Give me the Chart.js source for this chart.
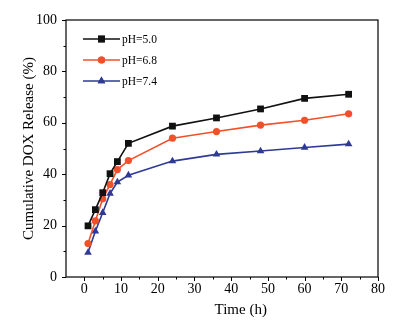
<!DOCTYPE html>
<html>
<head>
<meta charset="utf-8">
<script src="https://cdn.jsdelivr.net/npm/chart.js@4"></script>
<style>
  html, body { margin: 0; padding: 0; background: #fff; }
  #wrap { width: 403px; height: 324px; }
</style>
</head>
<body>
<div id="wrap"><canvas id="c" width="403" height="324"></canvas></div>
<script>
const times = [1, 3, 5, 7, 9, 12, 24, 36, 48, 60, 72];
const ph50 = [19.9, 26.2, 32.8, 40.2, 44.9, 52.0, 58.7, 61.9, 65.4, 69.5, 71.1];
const ph68 = [13.0, 21.8, 30.4, 36.0, 41.8, 45.3, 54.0, 56.6, 59.1, 61.0, 63.5];
const ph74 = [9.5, 17.8, 25.0, 32.5, 36.9, 39.6, 45.1, 47.7, 49.0, 50.4, 51.7];
const xTicks = [0, 10, 20, 30, 40, 50, 60, 70, 80];
const yTicks = [0, 20, 40, 60, 80, 100];

const FONT = "'Liberation Serif', 'Times New Roman', serif";

const series = [
  { label: "pH=5.0", data: ph50, color: "#111111", style: "rect", r: 4.8 },
  { label: "pH=6.8", data: ph68, color: "#f0502a", style: "circle", r: 3.6 },
  { label: "pH=7.4", data: ph74, color: "#2e3a94", style: "triangle", r: 4.4 }
];

// frame, outward tick marks (major + minor), x title and legend
const framePlugin = {
  id: "frame",
  afterDraw(chart) {
    const ctx = chart.ctx;
    const a = chart.chartArea;
    const xs = chart.scales.x, ys = chart.scales.y;
    ctx.save();
    ctx.strokeStyle = "#000";
    ctx.lineWidth = 1.2;
    ctx.strokeRect(a.left, a.top, a.right - a.left, a.bottom - a.top);
    ctx.lineWidth = 1;
    ctx.beginPath();
    for (let v = 0; v <= 80; v += 5) {
      const px = Math.round(xs.getPixelForValue(v)) + 0.5;
      const len = v % 10 === 0 ? 4 : 2.5;
      ctx.moveTo(px, a.bottom);
      ctx.lineTo(px, a.bottom + len);
    }
    for (let v = 0; v <= 100; v += 10) {
      const py = Math.round(ys.getPixelForValue(v)) + 0.5;
      const len = v % 20 === 0 ? 4 : 2.5;
      ctx.moveTo(a.left, py);
      ctx.lineTo(a.left - len, py);
    }
    ctx.stroke();

    // x axis title (sits right of centre in the original)
    ctx.fillStyle = "#000";
    ctx.font = "15px " + FONT;
    ctx.textAlign = "center";
    ctx.textBaseline = "middle";
    ctx.fillText("Time (h)", a.left + (a.right - a.left) * 0.56, 310);

    // legend
    ctx.font = "11.5px " + FONT;
    ctx.textAlign = "left";
    series.forEach((s, i) => {
      const y = a.top + 19 + i * 21;
      const x0 = a.left + 17, x1 = a.left + 54;
      ctx.strokeStyle = s.color;
      ctx.lineWidth = 1.6;
      ctx.beginPath();
      ctx.moveTo(x0, y);
      ctx.lineTo(x1, y);
      ctx.stroke();
      ctx.fillStyle = s.color;
      Chart.helpers.drawPoint(ctx, { pointStyle: s.style, radius: s.r, borderWidth: 0 }, (x0 + x1) / 2, y);
      ctx.fill();
      ctx.fillStyle = "#000";
      ctx.fillText(s.label, x1 + 2, y + 1);
    });
    ctx.restore();
  }
};

new Chart(document.getElementById("c"), {
  type: "line",
  data: {
    datasets: series.map(s => ({
      label: s.label,
      data: times.map((t, i) => ({ x: t, y: s.data[i] })),
      borderColor: s.color,
      backgroundColor: s.color,
      borderWidth: 1.6,
      pointStyle: s.style,
      pointRadius: s.r,
      pointBorderWidth: 0,
      tension: 0
    }))
  },
  options: {
    responsive: false,
    animation: false,
    layout: { padding: { top: 20, right: 25, left: 0, bottom: 0 } },
    plugins: { legend: { display: false }, tooltip: { enabled: false } },
    scales: {
      x: {
        type: "linear",
        min: -5,
        max: 80,
        afterBuildTicks: s => { s.ticks = xTicks.map(v => ({ value: v })); },
        afterFit: s => { s.height = 47; },
        grid: { display: false, drawTicks: false },
        border: { display: false },
        ticks: { color: "#000", padding: 4, maxRotation: 0, font: { family: FONT, size: 14 } },
        title: { display: false }
      },
      y: {
        min: 0,
        max: 100,
        afterBuildTicks: s => { s.ticks = yTicks.map(v => ({ value: v })); },
        afterFit: s => { s.width = 66; },
        grid: { display: false, drawTicks: false },
        border: { display: false },
        ticks: { color: "#000", padding: 9, font: { family: FONT, size: 14 } },
        title: { display: true, text: "Cumulative DOX Release (%)", color: "#000", padding: { top: 20, bottom: 0 }, font: { family: FONT, size: 15 } }
      }
    }
  },
  plugins: [framePlugin]
});
</script>
</body>
</html>
